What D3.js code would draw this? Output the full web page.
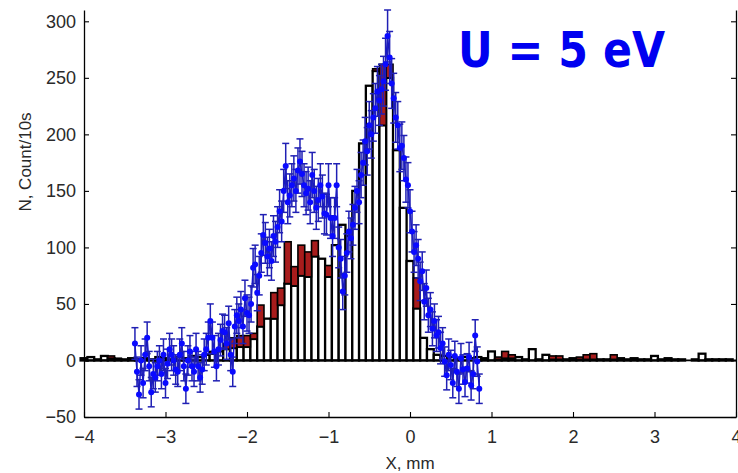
<!DOCTYPE html>
<html>
<head>
<meta charset="utf-8">
<script src="https://cdn.jsdelivr.net/npm/d3@7"></script>
<style>
  body { margin: 0; background: #fff; }
  svg { display: block; }
  .tick text { font-family: "Liberation Sans", Arial, sans-serif; font-size: 18px; fill: #2a2a2a; }
</style>
</head>
<body>
<svg id="chart" width="738" height="473"></svg>
<script>
// histogram bins: centres every 1/12 mm from -4 to 4
var binStart = -4, binStep = 1 / 12;
var barWhite = [2,3,1,4,2,1,1,2,1,2,1,3,2,1,3,2,4,3,5,6,8,10,11,12,12,19,30,37,37,49,
  68,66,75,74,92,90,74,102,120,110,150,192,243,256,208,250,186,135,88,46,20,10,5,4,3,2,3,2,3,2,
  8,1,2,2,3,1,10,1,5,1,1,1,2,1,1,1,1,1,1,2,1,2,1,1,4,1,2,1,1,0,1,6,1,1,1,1,0];
var barRed = [0,0,0,0,2,1,0,0,0,0,0,0,0,0,0,0,0,0,0,2,0,5,9,10,10,5,19,0,23,15,
  37,17,27,22,14,0,10,0,0,0,0,0,0,2,54,12,0,0,0,27,0,0,0,0,0,0,0,0,0,0,
  0,2,6,3,0,0,0,0,0,3,3,0,0,2,4,5,0,0,4,0,0,0,0,0,0,0,0,0,0,0,0,0,0,0,0,0,0];

// measured points (blue), every 0.025 mm from -3.375
var ptStart = -3.375, ptStep = 0.025;
var ptValue = [15,-10,-30,0,-20,5,20,-5,-28,-12,-15,-5,0,-12,5,-20,-3,10,5,0,
  -8,-10,5,15,-5,-25,0,8,-5,-10,10,-5,-15,-8,5,10,20,35,20,8,
  -5,10,18,26,25,15,33,5,-10,30,40,35,45,30,55,42,40,50,82,85,
  60,75,95,111,104,92,99,88,110,105,118,132,123,150,172,140,146,155,161,150,
  168,176,165,155,148,152,140,164,150,135,142,155,145,130,129,155,126,110,126,155,
  100,90,61,75,95,114,108,120,135,150,140,164,175,194,185,208,200,215,223,238,
  230,240,247,262,287,268,245,232,215,208,188,190,179,160,155,132,114,96,102,90,
  70,79,52,64,40,45,28,35,22,25,11,15,-1,-13,5,-4,-20,4,-10,-25,
  2,-8,-19,-7,3,-22,-12,22,-1,-25];
var ptError = [14,13,13,13,13,14,14,13,13,13,13,13,13,13,14,13,13,14,14,13,
  13,13,14,14,13,13,13,14,13,13,14,13,13,13,14,14,14,15,14,14,
  13,14,14,15,15,14,15,14,13,15,16,15,16,15,16,16,16,16,17,17,
  16,17,17,18,18,17,17,17,18,18,18,19,18,19,20,19,19,19,20,19,
  20,20,20,19,19,19,19,20,19,19,19,19,19,18,18,19,18,18,18,19,
  18,17,16,17,17,18,18,18,19,19,19,20,20,21,21,21,21,21,22,22,
  22,22,22,23,23,23,22,22,22,21,21,21,20,20,20,19,18,18,18,17,
  17,17,16,16,15,15,15,15,14,14,14,14,13,13,14,13,13,13,13,13,
  13,13,13,13,13,13,13,14,13,13];

var xTicks = [-4,-3,-2,-1,0,1,2,3,4];
var yTicks = [-50,0,50,100,150,200,250,300];

var margin = {top: 10, left: 84, right: 2, bottom: 56};
var width = 738 - margin.left - margin.right;
var height = 473 - margin.top - margin.bottom;

var svg = d3.select("#chart");
var g = svg.append("g").attr("transform", "translate(" + margin.left + "," + margin.top + ")");

var x = d3.scaleLinear().domain([-4, 4]).range([0, width]);
var y = d3.scaleLinear().domain([-50, 310]).range([height, 0]);

var bw = x(binStep) - x(0);
var bins = barWhite.map(function(v, i) {
  return {c: binStart + i * binStep, w: v, r: barRed[i]};
});

// white part of the stacked bars
g.append("g").selectAll("rect")
  .data(bins.filter(function(d) { return d.w > 0; }))
  .join("rect")
    .attr("x", function(d) { return x(d.c) - bw / 2; })
    .attr("width", bw)
    .attr("y", function(d) { return y(d.w); })
    .attr("height", function(d) { return y(0) - y(d.w); })
    .attr("fill", "#ffffff")
    .attr("stroke", "#000")
    .attr("stroke-width", 2.3);

// red part on top
g.append("g").selectAll("rect")
  .data(bins.filter(function(d) { return d.r > 0; }))
  .join("rect")
    .attr("x", function(d) { return x(d.c) - bw / 2; })
    .attr("width", bw)
    .attr("y", function(d) { return y(d.w + d.r); })
    .attr("height", function(d) { return y(d.w) - y(d.w + d.r); })
    .attr("fill", "#a81c1c")
    .attr("stroke", "#000")
    .attr("stroke-width", 1.6);

// base line
g.append("line")
  .attr("x1", 0).attr("x2", width)
  .attr("y1", y(0)).attr("y2", y(0))
  .attr("stroke", "#000").attr("stroke-width", 1.8);

var pts = ptValue.map(function(v, i) {
  return {x: ptStart + i * ptStep, v: v, e: ptError[i]};
});

var blue = "#1212d8";
g.append("path")
  .datum(pts)
  .attr("fill", "none")
  .attr("stroke", blue)
  .attr("stroke-width", 1.4)
  .attr("d", d3.line().x(function(d) { return x(d.x); }).y(function(d) { return y(d.v); }));

var eb = g.append("g").attr("stroke", "#2020b4").attr("stroke-width", 1.5);
eb.selectAll("line.v").data(pts).join("line").attr("class", "v")
  .attr("x1", function(d) { return x(d.x); }).attr("x2", function(d) { return x(d.x); })
  .attr("y1", function(d) { return y(d.v - d.e); }).attr("y2", function(d) { return y(d.v + d.e); });
eb.selectAll("line.t").data(pts).join("line").attr("class", "t")
  .attr("x1", function(d) { return x(d.x) - 3.5; }).attr("x2", function(d) { return x(d.x) + 3.5; })
  .attr("y1", function(d) { return y(d.v + d.e); }).attr("y2", function(d) { return y(d.v + d.e); });
eb.selectAll("line.b").data(pts).join("line").attr("class", "b")
  .attr("x1", function(d) { return x(d.x) - 3.5; }).attr("x2", function(d) { return x(d.x) + 3.5; })
  .attr("y1", function(d) { return y(d.v - d.e); }).attr("y2", function(d) { return y(d.v - d.e); });

g.append("g").selectAll("circle")
  .data(pts)
  .join("circle")
    .attr("cx", function(d) { return x(d.x); })
    .attr("cy", function(d) { return y(d.v); })
    .attr("r", 3)
    .attr("fill", "#0a0aff");

// axes, ticks pointing inward
var xAxis = g.append("g")
  .attr("transform", "translate(0," + height + ")")
  .call(d3.axisBottom(x).tickValues(xTicks).tickSizeInner(-5).tickSizeOuter(0).tickPadding(10));
var yAxis = g.append("g")
  .call(d3.axisLeft(y).tickValues(yTicks).tickSizeInner(-5).tickSizeOuter(0).tickPadding(8));
var yAxisR = g.append("g")
  .attr("transform", "translate(" + width + ",0)")
  .call(d3.axisRight(y).tickValues(yTicks).tickSizeInner(-5).tickSizeOuter(0).tickFormat(""));
[xAxis, yAxis, yAxisR].forEach(function(a) {
  a.select(".domain").attr("stroke", "#000").attr("stroke-width", 1.3);
  a.selectAll(".tick line").attr("stroke", "#000").attr("stroke-width", 1.1);
});
xAxis.selectAll(".tick text").attr("dy", "0.9em");

svg.append("text")
  .attr("x", margin.left + x(0))
  .attr("y", 469)
  .attr("text-anchor", "middle")
  .style("font-family", "Liberation Sans, Arial, sans-serif")
  .style("font-size", "17px")
  .attr("fill", "#2a2a2a")
  .text("X, mm");

svg.append("text")
  .attr("transform", "translate(31,162) rotate(-90)")
  .attr("text-anchor", "middle")
  .style("font-family", "Liberation Sans, Arial, sans-serif")
  .style("font-size", "17px")
  .attr("fill", "#2a2a2a")
  .text("N, Count/10s");

svg.append("text")
  .attr("x", 458)
  .attr("y", 67)
  .attr("textLength", 207)
  .attr("lengthAdjust", "spacingAndGlyphs")
  .style("font-family", "DejaVu Sans, sans-serif")
  .style("font-weight", "bold")
  .style("font-size", "50px")
  .attr("fill", "#0000f0")
  .text("U = 5 eV");
</script>
</body>
</html>
